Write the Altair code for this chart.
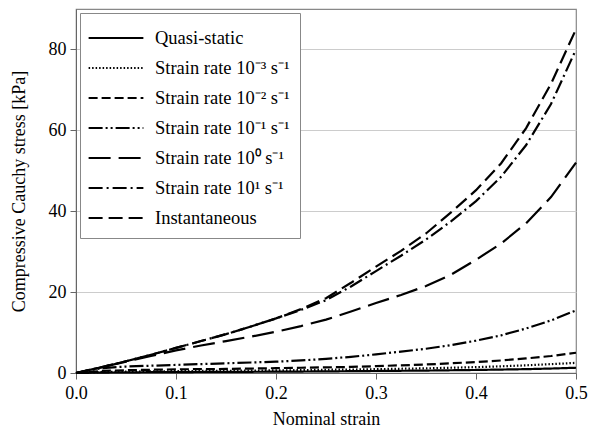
import altair as alt
import pandas as pd

strain = [0.0, 0.025, 0.05, 0.075, 0.1, 0.125, 0.15, 0.175, 0.2, 0.225, 0.25,
          0.275, 0.3, 0.325, 0.35, 0.375, 0.4, 0.425, 0.45, 0.475, 0.5]

series_names = [
    "Quasi-static",
    "Strain rate 10\u207b\u00b3 s\u207b\u00b9",
    "Strain rate 10\u207b\u00b2 s\u207b\u00b9",
    "Strain rate 10\u207b\u00b9 s\u207b\u00b9",
    "Strain rate 10\u2070 s\u207b\u00b9",
    "Strain rate 10\u00b9 s\u207b\u00b9",
    "Instantaneous",
]

quasi_static = [0, 0.1, 0.15, 0.2, 0.22, 0.25, 0.28, 0.3, 0.33, 0.36, 0.4,
                0.45, 0.5, 0.55, 0.6, 0.68, 0.75, 0.85, 0.95, 1.1, 1.3]
rate_1e_3 = [0, 0.25, 0.35, 0.4, 0.45, 0.5, 0.55, 0.6, 0.65, 0.7, 0.8,
             0.85, 0.95, 1.05, 1.15, 1.3, 1.45, 1.65, 1.9, 2.2, 2.5]
rate_1e_2 = [0, 0.5, 0.7, 0.8, 0.9, 0.95, 1.0, 1.1, 1.2, 1.3, 1.4,
             1.5, 1.7, 1.9, 2.1, 2.4, 2.7, 3.1, 3.6, 4.2, 5.0]
rate_1e_1 = [0, 1.2, 1.6, 1.8, 2.0, 2.2, 2.4, 2.6, 2.8, 3.1, 3.5,
             4.0, 4.6, 5.3, 6.0, 6.9, 8.0, 9.3, 11.0, 13.0, 15.5]
rate_1e0 = [0, 1.4, 2.8, 4.2, 5.6, 6.8, 7.9, 9.0, 10.2, 11.6, 13.2,
            15.2, 17.3, 19.3, 21.5, 24.3, 28.0, 32.0, 37.0, 43.5, 52.0]
rate_1e1 = [0, 1.4, 2.9, 4.5, 6.2, 7.9, 9.6, 11.5, 13.5, 15.6, 18.0,
            21.4, 25.2, 29.0, 33.0, 37.5, 42.5, 48.5, 56.3, 66.5, 80.0]
instantaneous = [0, 1.4, 2.9, 4.5, 6.2, 7.9, 9.6, 11.5, 13.5, 15.8, 18.5,
                 22.3, 26.3, 30.2, 34.5, 39.7, 45.2, 51.8, 60.5, 71.5, 85.0]

all_series = [quasi_static, rate_1e_3, rate_1e_2, rate_1e_1, rate_1e0, rate_1e1, instantaneous]

dash_styles = [
    [1, 0],
    [1.5, 2],
    [9, 4],
    [14, 3, 2, 3, 2, 3],
    [22, 8],
    [14, 4, 2, 4],
    [14, 6],
]

x_ticks = [0.0, 0.1, 0.2, 0.3, 0.4, 0.5]
y_ticks = [0, 20, 40, 60, 80]

rows = []
for order, (name, vals) in enumerate(zip(series_names, all_series)):
    for s, v in zip(strain, vals):
        rows.append({"series": name, "order": order, "strain": s, "stress": v})
df = pd.DataFrame(rows)

FONT = "Liberation Serif"

chart = alt.Chart(df).mark_line(strokeWidth=2.2, color="black").encode(
    x=alt.X("strain:Q",
            scale=alt.Scale(domain=[0, 0.5], nice=False, zero=False),
            axis=alt.Axis(title="Nominal strain", values=x_ticks, format=".1f",
                          grid=False, titlePadding=8, labelFlush=False,
                          labelFont=FONT, labelFontSize=18, labelPadding=5)),
    y=alt.Y("stress:Q",
            scale=alt.Scale(domain=[0, 90], nice=False),
            axis=alt.Axis(title="Compressive Cauchy stress [kPa]", values=y_ticks,
                          grid=True, titlePadding=20, labelFlush=False,
                          labelFont=FONT, labelFontSize=18, labelPadding=4)),
    strokeDash=alt.StrokeDash("series:N",
                              scale=alt.Scale(domain=series_names, range=dash_styles),
                              legend=alt.Legend(title=None, orient="none",
                                                legendX=4, legendY=4)),
    detail="series:N",
    order="strain:Q",
).properties(
    width=500,
    height=364,
    autosize=alt.AutoSizeParams(type="none"),
    padding={"left": 76, "top": 9, "right": 15, "bottom": 66},
).configure_view(
    stroke="#888888", strokeWidth=1.2
).configure_axis(
    labelFont=FONT, titleFont=FONT, labelFontSize=18, titleFontSize=18,
    labelColor="black", titleColor="black", titleFontWeight="normal",
    domainColor="#666666", tickColor="#666666", tickSize=6,
    gridColor="#cccccc",
).configure_legend(
    labelFont=FONT, labelFontSize=18.5, labelColor="black",
    symbolType="M-2,0H2", symbolSize=750, symbolStrokeWidth=2.2,
    symbolStrokeColor="black", symbolFillColor="transparent",
    symbolOffset=11,
    rowPadding=5, labelOffset=24,
    padding=10, fillColor="white", strokeColor="#888888",
    labelLimit=400,
)

chart.save("out.html", embed_options={"renderer": "svg", "actions": False})
